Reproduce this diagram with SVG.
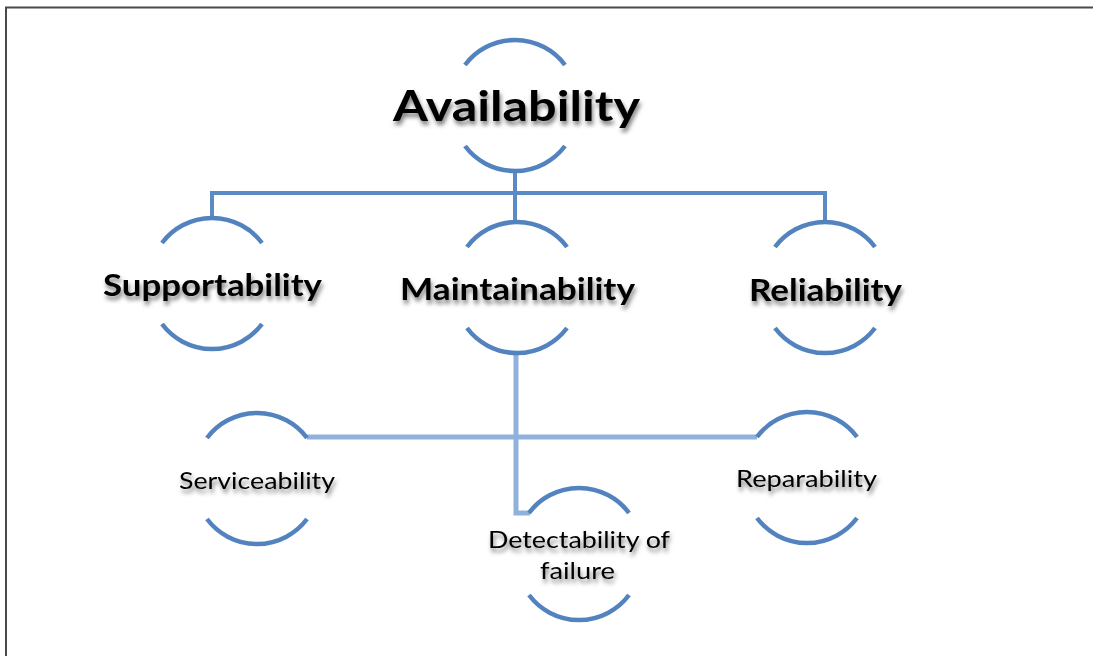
<svg xmlns="http://www.w3.org/2000/svg" width="1093" height="656" viewBox="0 0 1093 656">
<style>
.arc{fill:none;stroke:#5383bf;stroke-width:4.5}
.c1{fill:none;stroke:#5b8bc6;stroke-width:4}
.c2{fill:none;stroke:#8fb1db;stroke-width:5}
.t{font-family:Lato,"Liberation Sans",sans-serif;fill:#000;text-anchor:middle;filter:url(#sh)}
.b0{font-size:42px;font-weight:bold}
.b1{font-size:31px;font-weight:bold}
.r2{font-size:24px}
</style>
<defs>
<filter id="sh" x="-10%" y="-30%" width="120%" height="170%">
<feDropShadow dx="1.5" dy="4" stdDeviation="2.2" flood-color="#000" flood-opacity="0.5"/>
</filter>
</defs>
<rect width="1093" height="656" fill="#fff"/>
<path d="M6,656 V7.5 H1093" fill="none" stroke="#4a4a4a" stroke-width="2"/>
<g id="connectors">
<path class="c1" d="M515,170 V222 M210,193 H827 M212,191 V218 M825,191 V222"/>
<path class="c2" d="M516,352 V513 H530 M307,437 H757"/>
</g>
<g id="availability">
<path class="arc" d="M465,65 A62.5,62.5 0 0 1 565,65 M465,146 A62.5,62.5 0 0 0 565,146"/>
<text class="t b0" x="516.5" y="121" textLength="247" lengthAdjust="spacingAndGlyphs">Availability</text>
</g>
<g id="supportability">
<path class="arc" d="M162,243 A62.5,62.5 0 0 1 262,243 M162,324 A62.5,62.5 0 0 0 262,324"/>
<text class="t b1" x="212.5" y="296" textLength="219" lengthAdjust="spacingAndGlyphs">Supportability</text>
</g>
<g id="maintainability">
<path class="arc" d="M467,247 A62.5,62.5 0 0 1 567,247 M467,328 A62.5,62.5 0 0 0 567,328"/>
<text class="t b1" x="517.5" y="300" textLength="235" lengthAdjust="spacingAndGlyphs">Maintainability</text>
</g>
<g id="reliability">
<path class="arc" d="M775,247 A62.5,62.5 0 0 1 875,247 M775,328 A62.5,62.5 0 0 0 875,328"/>
<text class="t b1" x="825.5" y="301" textLength="153" lengthAdjust="spacingAndGlyphs">Reliability</text>
</g>
<g id="serviceability">
<path class="arc" d="M207,438 A62.5,62.5 0 0 1 307,438 M207,519 A62.5,62.5 0 0 0 307,519"/>
<text class="t r2" x="257" y="489" textLength="156" lengthAdjust="spacingAndGlyphs">Serviceability</text>
</g>
<g id="detectability">
<path class="arc" d="M529,513 A62.5,62.5 0 0 1 629,513 M529,595 A62.5,62.5 0 0 0 629,595"/>
<text class="t r2" x="579" y="548" textLength="182" lengthAdjust="spacingAndGlyphs">Detectability of</text>
<text class="t r2" x="577.5" y="579" textLength="75" lengthAdjust="spacingAndGlyphs">failure</text>
</g>
<g id="reparability">
<path class="arc" d="M757,437 A62.5,62.5 0 0 1 857,437 M757,518 A62.5,62.5 0 0 0 857,518"/>
<text class="t r2" x="806.5" y="487" textLength="141" lengthAdjust="spacingAndGlyphs">Reparability</text>
</g>
</svg>
